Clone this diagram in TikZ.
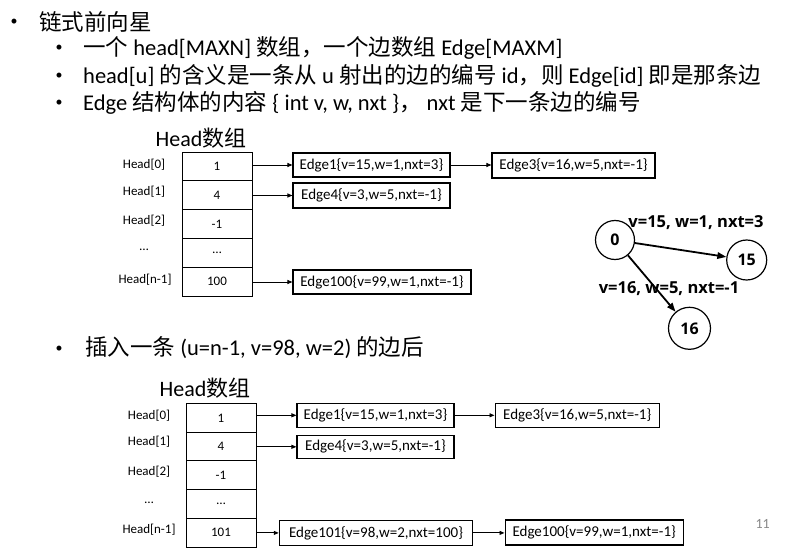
\documentclass[tikz,border=0pt]{standalone}
\usepackage{fontspec}
\setmainfont{Carlito}
\newfontfamily\cjk{Noto Sans CJK SC}
\newfontfamily\gfont{Open Sans}
\usetikzlibrary{arrows.meta}
\newcommand\zh[1]{{\cjk #1}}
\definecolor{pgray}{RGB}{137,137,137}
\begin{document}
\begin{tikzpicture}[x=1pt,y=-1pt,
  txt/.style={inner sep=0pt, anchor=west, font=\fontsize{22.5}{26}\selectfont},
  bul/.style={inner sep=0pt, font=\fontsize{14}{16}\selectfont},
  cell/.style={draw, line width=1pt, minimum width=70pt, minimum height=28.8pt, inner sep=0pt, font=\fontsize{13}{15}\selectfont},
  lab/.style={inner sep=0pt, font=\fontsize{13}{15}\selectfont},
  ebox/.style={draw, line width=1.1pt, inner sep=0pt, font=\fontsize{15}{18}\selectfont},
  arr/.style={line width=0.9pt, -{Triangle[length=5pt,width=4pt]}},
  vert/.style={circle, draw, line width=1.2pt, inner sep=0pt, font=\gfont\bfseries\fontsize{16}{18}\selectfont},
  garr/.style={line width=1.8pt, -{Triangle[length=9pt,width=6.5pt]}},
  glab/.style={inner sep=0pt, font=\gfont\bfseries\fontsize{16.5}{18}\selectfont},
  ttl/.style={inner sep=0pt, font=\fontsize{22}{26}\selectfont}
]
\useasboundingbox (0,0) rectangle (807,551);
\fill[white] (0,0) rectangle (807,551);

% bullet text
\node[bul] (b1) at (14,22) {\textbullet};
\node[txt] (t1) at (39,22) {\zh{链式前向星}};
\node[bul] (b2) at (59,48) {\textbullet};
\node[txt] (t2) at (83,48) {\zh{一个} head[MAXN] \zh{数组，一个边数组} Edge[MAXM]};
\node[bul] (b3) at (59,76) {\textbullet};
\node[txt] (t3) at (83,76) {head[u] \zh{的含义是一条从} u \zh{射出的边的编号} id\zh{，则} Edge[id] \zh{即是那条边}};
\node[bul] (b4) at (59,103) {\textbullet};
\node[txt] (t4) at (83,103) {Edge \zh{结构体的内容} \{ int v, w, nxt \}\zh{，} nxt \zh{是下一条边的编号}};
\node[bul] (b5) at (59,349) {\textbullet};
\node[txt] (t5) at (85,348) {\zh{插入一条} (u=n-1, v=98, w=2) \zh{的边后}};

% upper array
\node[ttl] (h1) at (201,138) {Head\zh{数组}};
\node[cell] (a0) at (217,166.4) {1};
\node[cell] (a1) at (217,195.2) {4};
\node[cell] (a2) at (217,224.0) {-1};
\node[cell] (a3) at (217,252.8) {…};
\node[cell] (a4) at (217,281.6) {100};
\node[lab] (l0) at (144,165) {Head[0]};
\node[lab] (l1) at (144,192) {Head[1]};
\node[lab] (l2) at (144,221) {Head[2]};
\node[lab] (l3) at (144,250) {…};
\node[lab] (l4) at (145,280) {Head[n-1]};

\node[ebox, minimum width=157pt, minimum height=24pt] (e1) at (371.5,165) {Edge1\{v=15,w=1,nxt=3\}};
\node[ebox, minimum width=157pt, minimum height=25pt] (e4) at (371.5,195.5) {Edge4\{v=3,w=5,nxt=-1\}};
\node[ebox, minimum width=178pt, minimum height=24pt] (e100) at (382,282) {Edge100\{v=99,w=1,nxt=-1\}};
\node[ebox, minimum width=163pt, minimum height=25pt] (e3) at (573.5,165.5) {Edge3\{v=16,w=5,nxt=-1\}};

\draw[arr] (a0.east |- e1.west) -- (e1.west);
\draw[arr] (a1.east |- e4.west) -- (e4.west);
\draw[arr] (a4.east |- e100.west) -- (e100.west);
\draw[arr] (e1.east) -- (e1.east -| e3.west);

% graph
\node[vert, minimum size=39pt] (n0) at (615,240) {0};
\node[vert, minimum size=40pt] (n15) at (746.7,260) {15};
\node[vert, minimum size=42pt] (n16) at (689.5,328.3) {16};
\draw[garr] (n0) -- (n15);
\draw[garr] (n0) -- (n16);
\node[glab] (g1) at (696,223) {v=15, w=1, nxt=3};
\node[glab] (g2) at (669,289) {v=16, w=5, nxt=-1};

% lower array
\node[ttl] (h2) at (205,388) {Head\zh{数组}};
\node[cell, minimum height=28.7pt] (c0) at (221,417.85) {1};
\node[cell, minimum height=28.7pt] (c1) at (221,446.55) {4};
\node[cell, minimum height=28.7pt] (c2) at (221,475.25) {-1};
\node[cell, minimum height=28.7pt] (c3) at (221,503.95) {…};
\node[cell, minimum height=28.7pt] (c4) at (221,532.65) {101};
\node[lab] (m0) at (149,415.7) {Head[0]};
\node[lab] (m1) at (149,441.7) {Head[1]};
\node[lab] (m2) at (149,471.7) {Head[2]};
\node[lab] (m3) at (149,503) {…};
\node[lab] (m4) at (149,530) {Head[n-1]};

\node[ebox, minimum width=157pt, minimum height=24pt] (f1) at (375.5,415.3) {Edge1\{v=15,w=1,nxt=3\}};
\node[ebox, minimum width=157pt, minimum height=23pt] (f4) at (375.5,446.8) {Edge4\{v=3,w=5,nxt=-1\}};
\node[ebox, minimum width=193.4pt, minimum height=24.3pt] (f101) at (376,532.9) {Edge101\{v=98,w=2,nxt=100\}};
\node[ebox, minimum width=164.3pt, minimum height=24.4pt] (f3) at (577.2,415.5) {Edge3\{v=16,w=5,nxt=-1\}};
\node[ebox, minimum width=178.3pt, minimum height=25pt] (f100) at (594.2,532.5) {Edge100\{v=99,w=1,nxt=-1\}};

\draw[arr] (c0.east |- f1.west) -- (f1.west);
\draw[arr] (c1.east |- f4.west) -- (f4.west);
\draw[arr] (c4.east |- f101.west) -- (f101.west);
\draw[arr] (f1.east) -- (f1.east -| f3.west);
\draw[arr] (f101.east) -- (f101.east -| f100.west);

\node[inner sep=0pt, text=pgray, font=\fontsize{14}{16}\selectfont] (pg) at (762.7,524) {11};
\end{tikzpicture}
\end{document}
